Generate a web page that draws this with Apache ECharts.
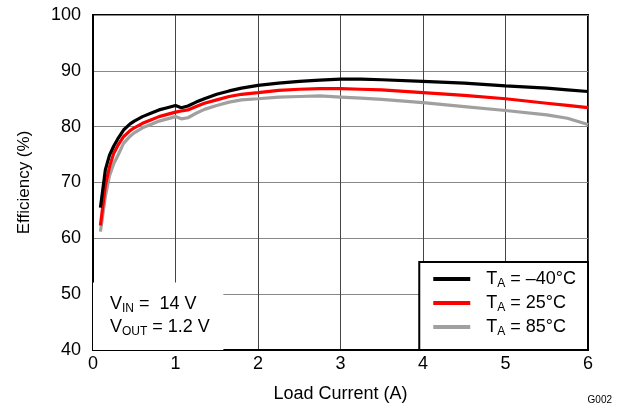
<!DOCTYPE html>
<html>
<head>
<meta charset="utf-8">
<script src="https://cdn.jsdelivr.net/npm/echarts@6/dist/echarts.min.js"></script>
<style>
  html, body { margin: 0; padding: 0; background: #fff; }
  #chart { width: 621px; height: 408px; }
</style>
</head>
<body>
<div id="chart"></div>
<script>
// Load current (A)
const loadCurrent = [0.09, 0.15, 0.2, 0.25, 0.3, 0.37, 0.45, 0.5, 0.6, 0.7, 0.8, 0.9, 1.0, 1.07, 1.15, 1.25, 1.35, 1.5, 1.65, 1.8, 2.0, 2.25, 2.5, 2.75, 3.0, 3.25, 3.5, 4.0, 4.5, 5.0, 5.5, 5.75, 6.0];
// Efficiency (%) per ambient temperature
const effMinus40 = [65.5, 72.3, 74.9, 76.5, 77.8, 79.4, 80.5, 81.0, 81.8, 82.4, 83.0, 83.4, 83.8, 83.4, 83.7, 84.4, 85.0, 85.8, 86.4, 86.9, 87.4, 87.8, 88.1, 88.35, 88.5, 88.5, 88.4, 88.1, 87.8, 87.3, 86.9, 86.6, 86.3];
const eff25 = [62.3, 69.5, 72.8, 75.2, 76.6, 78.2, 79.3, 79.8, 80.6, 81.2, 81.8, 82.2, 82.6, 82.8, 83.0, 83.6, 84.2, 84.8, 85.4, 85.8, 86.1, 86.5, 86.7, 86.8, 86.8, 86.7, 86.6, 86.1, 85.6, 85.0, 84.2, 83.8, 83.4];
const eff85 = [61.2, 67.5, 71.2, 73.3, 74.8, 77.0, 78.3, 78.9, 79.8, 80.4, 81.0, 81.4, 81.8, 81.4, 81.6, 82.4, 83.1, 83.8, 84.4, 84.8, 85.0, 85.3, 85.4, 85.5, 85.3, 85.1, 84.9, 84.3, 83.6, 82.9, 82.1, 81.5, 80.4];

const seriesNames = ['T_A = \u201340\u00b0C', 'T_A = 25\u00b0C', 'T_A = 85\u00b0C'];
const seriesColors = ['#000000', '#ff0000', '#a0a0a0'];
const seriesValues = [effMinus40, eff25, eff85];

const xTicks = [0, 1, 2, 3, 4, 5, 6];
const yTicks = [40, 50, 60, 70, 80, 90, 100];

const FONT = '"Liberation Sans", Arial, Helvetica, sans-serif';

const pair = (vals) => loadCurrent.map((x, i) => [x, vals[i]]);

const series = seriesNames.map((name, k) => ({
  name: name,
  type: 'line',
  data: pair(seriesValues[k]),
  showSymbol: false,
  smooth: false,
  z: 10 - k,
  lineStyle: { color: seriesColors[k], width: 3.2 },
  itemStyle: { color: seriesColors[k] },
  emphasis: { disabled: true }
}));

// white panel behind the operating-condition note
series[2].markArea = {
  silent: true,
  itemStyle: { color: '#ffffff' },
  data: [[{ coord: [0, 40] }, { coord: [1.58, 52.1] }]]
};

const subRich = {
  n: { fontFamily: FONT, fontSize: 18, color: '#000' },
  p: { fontFamily: FONT, fontSize: 18, color: '#000', padding: [0, 0, 0, 11] },
  s: { fontFamily: FONT, fontSize: 12, color: '#000', padding: [10, 0, 0, 0] }
};

const chart = echarts.init(document.getElementById('chart'), null, { renderer: 'canvas' });
chart.setOption({
  animation: false,
  backgroundColor: '#ffffff',
  grid: {
    left: 93, right: 33, top: 15, bottom: 57,
    show: true, borderColor: '#000', borderWidth: 2, backgroundColor: 'transparent'
  },
  xAxis: {
    type: 'value',
    min: xTicks[0], max: xTicks[xTicks.length - 1], interval: 1,
    name: 'Load Current (A)',
    nameLocation: 'middle', nameGap: 35,
    nameTextStyle: { fontFamily: FONT, fontSize: 18, color: '#000' },
    axisLine: { show: true, lineStyle: { color: '#000', width: 2 } },
    axisTick: { show: false },
    axisLabel: { fontFamily: FONT, fontSize: 18, color: '#000', margin: 5 },
    splitLine: { show: true, lineStyle: { color: '#444', width: 1 } }
  },
  yAxis: {
    type: 'value',
    min: yTicks[0], max: yTicks[yTicks.length - 1], interval: 10,
    name: 'Efficiency (%)',
    nameLocation: 'middle', nameGap: 60, nameRotate: 90,
    nameTextStyle: { fontFamily: FONT, fontSize: 17, color: '#000' },
    axisLine: { show: true, lineStyle: { color: '#000', width: 2 } },
    axisTick: { show: false },
    axisLabel: { fontFamily: FONT, fontSize: 18, color: '#000', margin: 12 },
    splitLine: { show: true, lineStyle: { color: '#888', width: 1 } }
  },
  legend: {
    orient: 'vertical',
    right: 33, bottom: 58,
    data: seriesNames,
    icon: 'rect',
    itemWidth: 37, itemHeight: 4, itemGap: 4,
    padding: [8, 12, 12, 14],
    backgroundColor: '#ffffff',
    borderColor: '#000', borderWidth: 2,
    inactiveColor: '#000',
    selectedMode: false,
    textStyle: { fontFamily: FONT, fontSize: 18, color: '#000', rich: subRich },
    formatter: (name) => '{p|T}{s|A}{n|' + name.slice(3) + '}'
  },
  graphic: [
    {
      type: 'text', x: 110, y: 304, z: 20,
      style: { text: '{n|V}{s|IN}{n| =  14 V}', rich: subRich, fill: '#000', verticalAlign: 'middle' }
    },
    {
      type: 'text', x: 110, y: 327, z: 20,
      style: { text: '{n|V}{s|OUT}{n| = 1.2 V}', rich: subRich, fill: '#000', verticalAlign: 'middle' }
    },
    {
      type: 'text', right: 9, top: 395, z: 20,
      style: { text: 'G002', font: '10px ' + FONT, fill: '#000' }
    }
  ],
  series: series
});
</script>
</body>
</html>
